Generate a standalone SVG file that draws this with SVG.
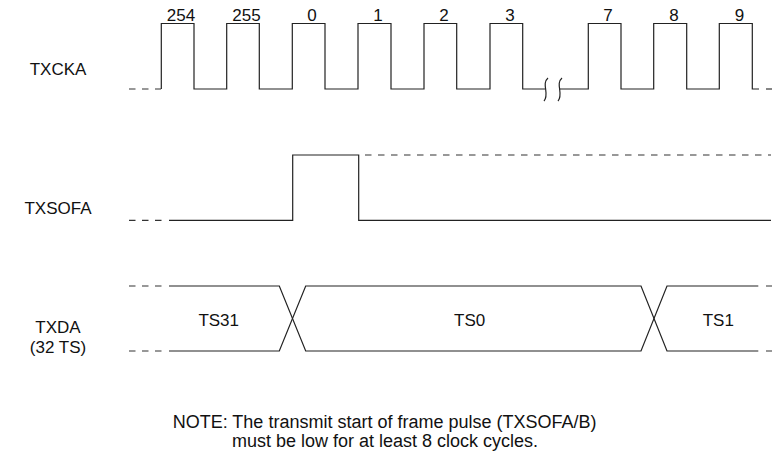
<svg xmlns="http://www.w3.org/2000/svg" width="777" height="455" viewBox="0 0 777 455">
<style>
.w{fill:none;stroke:#222;stroke-width:1.2}
.d{fill:none;stroke:#333;stroke-width:1.2;stroke-dasharray:6.5 6.5}
text{font-family:"Liberation Sans",Arial,sans-serif;font-size:17px;fill:#111}
.c{text-anchor:middle}
.n{font-size:18px}
</style>
<rect width="777" height="455" fill="#fff"/>
<g id="labels">
<text class="c" x="58" y="75">TXCKA</text>
<text class="c" x="58" y="214">TXSOFA</text>
<text class="c" x="58" y="333">TXDA</text>
<text class="c" x="58" y="353">(32 TS)</text>
</g>
<g id="txcka">
<path class="d" d="M129 89H161"/>
<path class="w" d="M161.3 89V23.5H194V89H226.7V23.5H259.3V89H292.3V23.5H325V89H358V23.5H391V89H424V23.5H456.7V89H490V23.5H522.7V89H545"/>
<path class="w" d="M559 89H588.3V23.5H621V89H653.7V23.5H686.7V89H719.3V23.5H752.3V89H759"/>
<path class="d" d="M766 89H772"/>
<path class="w" d="M548 78C541 84 550 94 544 101M562 78C555 84 564 94 558 101"/>
<text class="c" x="181" y="21">254</text>
<text class="c" x="246.5" y="21">255</text>
<text class="c" x="312" y="21">0</text>
<text class="c" x="378" y="21">1</text>
<text class="c" x="444" y="21">2</text>
<text class="c" x="510" y="21">3</text>
<text class="c" x="608" y="21">7</text>
<text class="c" x="674" y="21">8</text>
<text class="c" x="739.5" y="21">9</text>
</g>
<g id="txsofa">
<path class="d" d="M129 220.3H162"/>
<path class="w" d="M169 220.3H292.7V155H358.7V220.3H771"/>
<path class="d" d="M365 155H771"/>
</g>
<g id="txda">
<path class="d" d="M129 286H162M129 351H162"/>
<path class="w" d="M169 286H279.3L305.7 351H641L667 286H758.3"/>
<path class="w" d="M169 351H279.3L305.7 286H641L667 351H758.3"/>
<path class="d" d="M766 286H772M766 351H772"/>
<text class="c" x="218.7" y="326">TS31</text>
<text class="c" x="469.7" y="326">TS0</text>
<text class="c" x="718.3" y="326">TS1</text>
</g>
<g id="note">
<text class="n" x="172.7" y="428">NOTE: The transmit start of frame pulse (TXSOFA/B)</text>
<text class="n" x="232" y="447">must be low for at least 8 clock cycles.</text>
</g>
</svg>
